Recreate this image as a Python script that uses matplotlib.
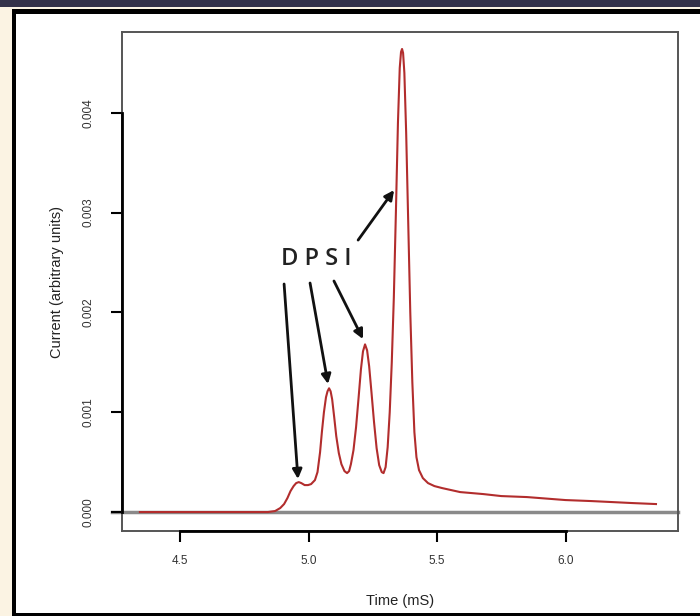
import matplotlib
matplotlib.use('Agg')
import matplotlib.pyplot as plt
from matplotlib.patches import Rectangle

# trace (time in mS, current in arbitrary units)
time_ms = [4.344, 4.600, 4.842, 4.870, 4.890, 4.905, 4.918, 4.930, 4.942, 4.952,
           4.962, 4.972, 4.985, 4.998, 5.010, 5.025, 5.035, 5.045, 5.052, 5.060,
           5.068, 5.074, 5.080, 5.086, 5.092, 5.100, 5.108, 5.118, 5.128, 5.140,
           5.150, 5.158, 5.165, 5.175, 5.185, 5.195, 5.204, 5.212, 5.220, 5.228,
           5.236, 5.245, 5.255, 5.265, 5.275, 5.285, 5.292, 5.300, 5.308, 5.316,
           5.324, 5.332, 5.340, 5.348, 5.355, 5.360, 5.364, 5.368, 5.373, 5.380,
           5.388, 5.396, 5.404, 5.412, 5.420, 5.430, 5.445, 5.465, 5.490, 5.520,
           5.590, 5.680, 5.750, 5.850, 6.000, 6.100, 6.180, 6.260, 6.352]
current = [0.0, 0.0, 0.0, 0.00001, 0.00004, 0.00008, 0.00014, 0.00021, 0.00026, 0.00029,
           0.00030, 0.00029, 0.00027, 0.00027, 0.00028, 0.00032, 0.00040, 0.00060, 0.00080, 0.00100,
           0.00115, 0.00121, 0.00124, 0.00121, 0.00113, 0.00095, 0.00076, 0.00059, 0.00048, 0.00041,
           0.00039, 0.00041, 0.00048, 0.00062, 0.00085, 0.00115, 0.00143, 0.00161, 0.00168, 0.00162,
           0.00146, 0.00120, 0.00090, 0.00064, 0.00047, 0.00040, 0.00039, 0.00045, 0.00065, 0.00100,
           0.00150, 0.00215, 0.00300, 0.00390, 0.00445, 0.00461, 0.00464, 0.00460, 0.00440, 0.00380,
           0.00290, 0.00200, 0.00130, 0.00080, 0.00055, 0.00042, 0.00034, 0.00029, 0.00026, 0.00024,
           0.00020, 0.00018, 0.00016, 0.00015, 0.00012, 0.00011, 0.00010, 0.00009, 0.00008]

xticks = [4.5, 5.0, 5.5, 6.0]
yticks = [0.000, 0.001, 0.002, 0.003, 0.004]

# arrows: label start -> peak
arrow_start = [(4.905, 0.002285), (5.006, 0.002295), (5.099, 0.002315), (5.193, 0.002725)]
arrow_end = [(4.959, 0.000331), (5.076, 0.001283), (5.212, 0.001733), (5.333, 0.003226)]

W, H = 700, 616
fig = plt.figure(figsize=(7, 6.16), dpi=100, facecolor='white')

def px_rect(x0, y0, x1, y1, color):
    fig.add_artist(Rectangle((x0 / W, 1 - y1 / H), (x1 - x0) / W, (y1 - y0) / H,
                             transform=fig.transFigure, color=color, lw=0, zorder=-5))

# page decoration around the chart
px_rect(0, 0, 700, 7, '#34324a')
px_rect(0, 7, 12, 616, '#fbf3e3')
px_rect(12, 7, 700, 9, '#fbf3e3')
px_rect(12, 9, 700, 14, 'black')
px_rect(12, 9, 16, 616, 'black')
px_rect(12, 613, 700, 616, 'black')

ax = fig.add_axes([122 / W, 1 - 531 / H, 556 / W, 499 / H])
ax.set_xlim(4.2743, 6.4377)
ax.set_ylim(-0.000190, 0.004810)

ax.axhline(0, xmin=-0.018, xmax=1, color='#8a8a8a', lw=2.5, clip_on=False, zorder=1)
ax.plot(time_ms, current, color='#b22d2d', lw=1.5, zorder=2)

for s in ax.spines.values():
    s.set_color('#555555')
    s.set_linewidth(1.4)
# R style axis lines over the tick span
ax.plot([xticks[0], xticks[-1]], [-0.000190, -0.000190], color='black', lw=2,
        clip_on=False, zorder=4)
ax.plot([4.2743, 4.2743], [yticks[0], yticks[-1]], color='black', lw=2,
        clip_on=False, zorder=4)

ax.set_xticks(xticks)
ax.set_xticklabels(['4.5', '5.0', '5.5', '6.0'])
ax.set_yticks(yticks)
ax.set_yticklabels(['0.000', '0.001', '0.002', '0.003', '0.004'], rotation=90, va='center')
ax.tick_params(direction='out', length=8, width=1.5, color='black',
               labelsize=8.5, labelcolor='#333333')
ax.tick_params(axis='x', pad=9)
ax.tick_params(axis='y', pad=12)
for lab in ax.get_xticklabels() + ax.get_yticklabels():
    lab.set_family('Liberation Sans')

fig.text(400 / W, 1 - 601 / H, 'Time (mS)', ha='center', va='center',
         fontsize=10.5, color='#222222', family='Liberation Sans')
fig.text(57 / W, 1 - 282 / H, 'Current (arbitrary units)', ha='center', va='center',
         rotation=90, fontsize=10.5, color='#222222', family='Liberation Sans')

ax.text(5.029, 0.002535, 'D P S I', ha='center', va='center', fontsize=17,
        color='#222222', family='Open Sans', weight='semibold')
for (x0, y0), (x1, y1) in zip(arrow_start, arrow_end):
    ax.annotate('', xy=(x1, y1), xytext=(x0, y0),
                arrowprops=dict(arrowstyle='-|>', color='#111111', lw=2,
                                mutation_scale=14, shrinkA=0, shrinkB=0))

fig.savefig('out.png', dpi=100)
